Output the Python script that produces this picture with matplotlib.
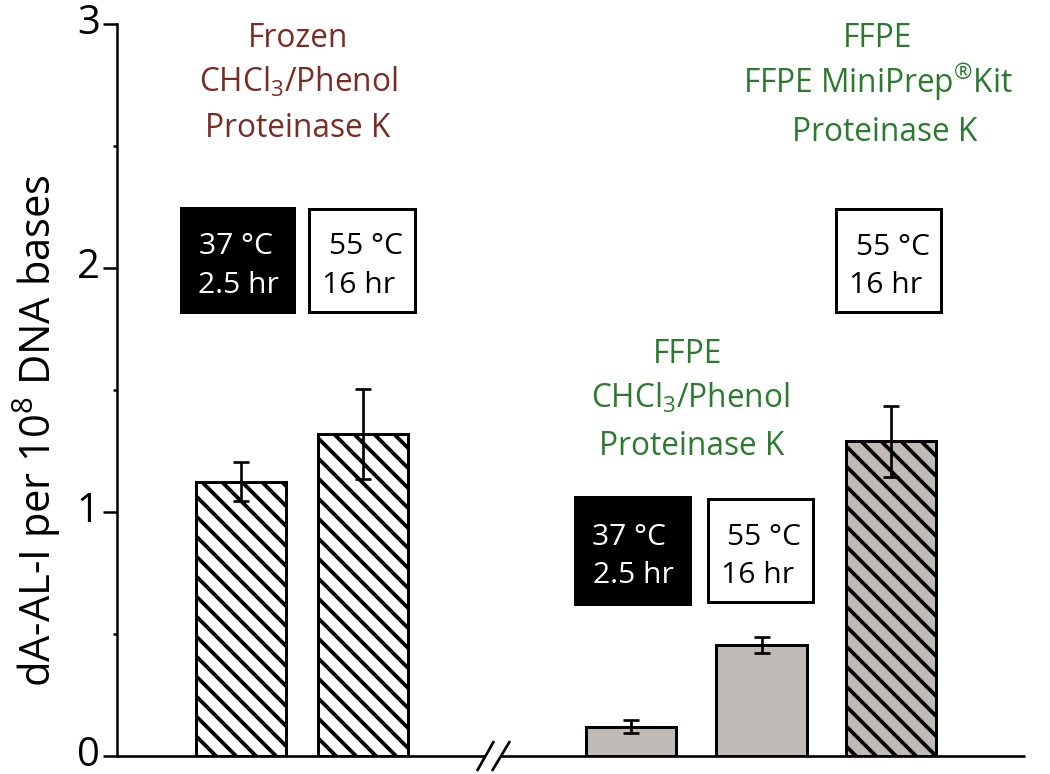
import matplotlib.pyplot as plt
from matplotlib.patches import Rectangle
from matplotlib.lines import Line2D

plt.rcParams['font.family'] = ['Open Sans', 'DejaVu Sans']
plt.rcParams['mathtext.fontset'] = 'custom'
plt.rcParams['mathtext.rm'] = 'Open Sans'
plt.rcParams['mathtext.it'] = 'Open Sans'
plt.rcParams['mathtext.default'] = 'regular'
plt.rcParams['hatch.linewidth'] = 2.3
plt.rcParams['hatch.color'] = 'black'

# data
positions = [1.0, 2.0, 4.2, 5.27, 6.33]
values = [1.125, 1.32, 0.12, 0.455, 1.29]
errors = [0.08, 0.185, 0.027, 0.033, 0.145]
fills = ['white', 'white', '#c0bbb7', '#c0bbb7', '#c0bbb7']
hatches = ['\\\\', '\\\\', '', '', '\\\\']
ylabel = 'dA-AL-I per 10$^{8}$ DNA bases'

brown = '#7a2b24'
green = '#2b7a2f'

fig = plt.figure(figsize=(8.75, 6.45), dpi=120)
W, H = 1050, 774
ax = fig.add_axes([117 / W, 1 - 756 / H, (1025 - 117) / W, (756 - 24) / H])


def px(x, y):
    # pixel position -> figure fraction
    return x / W, 1 - y / H


bars = ax.bar(positions, values, width=0.74, color=fills, edgecolor='black',
              linewidth=1.8, zorder=2)
for b, h in zip(bars, hatches):
    b.set_hatch(h)
ax.errorbar(positions, values, yerr=errors, fmt='none', ecolor='black',
            elinewidth=1.6, capsize=5, capthick=1.6, zorder=3)

ax.set_xlim(-0.016, 7.43)
ax.set_ylim(0, 3)
ax.set_yticks([0, 1, 2, 3])
ax.set_yticks([0.5, 1.5, 2.5], minor=True)
ax.set_xticks([])
ax.tick_params(axis='y', which='major', length=8.4, width=1.5, labelsize=24, pad=2)
ax.tick_params(axis='y', which='minor', length=2.5, width=1.5)
for lbl in ax.get_yticklabels():
    lbl.set_verticalalignment('center')
for s in ['top', 'right', 'bottom']:
    ax.spines[s].set_visible(False)
ax.spines['left'].set_linewidth(1.5)

# broken x axis
for xs, ys in [([117, 485], [756, 756]), ([501, 1025], [756, 756]),
               ([477, 494], [771, 741]), ([492, 510], [771, 741])]:
    fig.add_artist(Line2D([x / W for x in xs], [1 - y / H for y in ys],
                          color='black', lw=1.6, solid_capstyle='butt'))

fig.text(*px(37, 431), ylabel, rotation=90, ha='center', va='center', fontsize=25)

# group headings
tfs = 19
for x, y, s, c in [
    (298, 47, 'Frozen', brown),
    (298, 92, 'CHCl$_3$/Phenol', brown),
    (298, 137, 'Proteinase K', brown),
    (878, 47, 'FFPE', green),
    (878, 93, 'FFPE MiniPrep$^{®}$Kit', green),
    (885, 141, 'Proteinase K', green),
    (688, 363, 'FFPE', green),
    (690, 408, 'CHCl$_3$/Phenol', green),
    (692, 455, 'Proteinase K', green),
]:
    fig.text(*px(x, y), s, ha='center', va='baseline', fontsize=tfs, color=c)

# condition boxes
bfs = 18
boxes = [
    (181, 208, 294, 312, 'black', 'white', (199, 254, '37 °C'), (198, 293, '2.5 hr')),
    (309, 209, 415, 312, 'white', 'black', (329, 254, '55 °C'), (322, 293, '16 hr')),
    (836, 209, 941, 312, 'white', 'black', (856, 255, '55 °C'), (849, 293, '16 hr')),
    (575, 497, 690, 604, 'black', 'white', (592, 545, '37 °C'), (593, 583, '2.5 hr')),
    (708, 499, 813, 602, 'white', 'black', (727, 545, '55 °C'), (721, 583, '16 hr')),
]
for x0, y0, x1, y1, fc, tc, l1, l2 in boxes:
    fig.add_artist(Rectangle(px(x0, y1), (x1 - x0) / W, (y1 - y0) / H,
                             facecolor=fc, edgecolor='black', lw=1.8,
                             transform=fig.transFigure))
    for tx, ty, s in (l1, l2):
        fig.text(*px(tx, ty), s, ha='left', va='baseline', fontsize=bfs, color=tc)

fig.savefig('out.png', dpi=120)
